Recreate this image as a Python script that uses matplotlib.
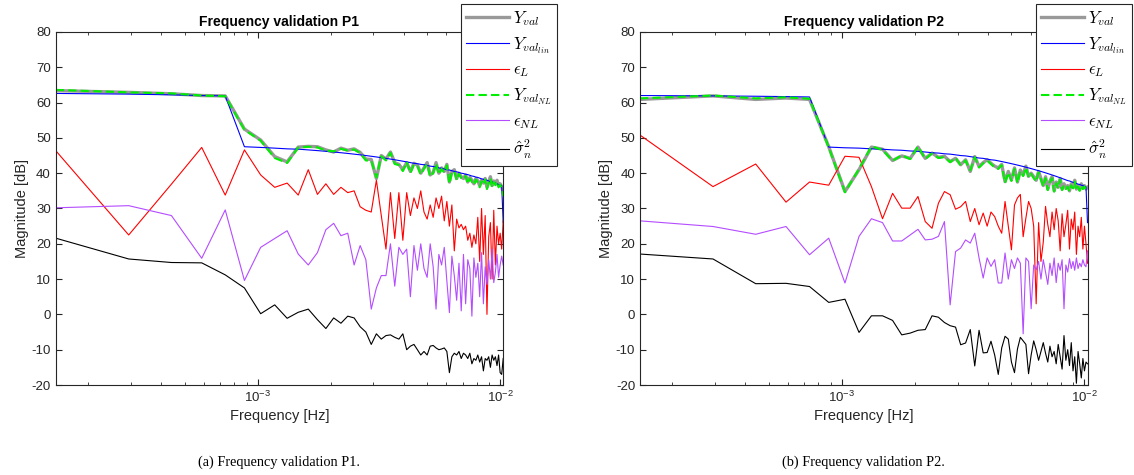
import numpy as np
import matplotlib
matplotlib.use("Agg")
import matplotlib.pyplot as plt

plt.rcParams['font.family'] = ['Liberation Sans', 'DejaVu Sans']
plt.rcParams['mathtext.fontset'] = 'cm'
plt.rcParams['axes.unicode_minus'] = False

# harmonic frequency grid (Hz)
f0 = 1.47e-4
harm = np.arange(1, 71)
freq = harm * f0

# ---- P1 ----
p1_yval = [63.4, 62.9, 62.5, 62.0, 61.9, 52.5, 49.4, 44.7, 43.2, 47.4,
           47.6, 47.5, 46.6, 46.0, 47.1, 46.5, 46.9, 45.9, 44.0, 43.9,
           38.5, 45.0, 44.0, 46.0, 43.0, 42.5, 41.0, 43.0, 40.5, 42.8,
           42.3, 40.0, 41.5, 43.0, 39.5, 40.2, 43.0, 40.0, 41.5, 40.5,
           42.5, 37.5, 40.5, 41.0, 38.5, 40.0, 39.0, 38.5, 39.5, 37.5,
           38.8, 38.0, 37.0, 38.5, 37.8, 36.5, 38.0, 37.2, 38.5, 36.0,
           37.5, 39.0, 36.5, 37.8, 37.0, 38.0, 36.5, 37.0, 36.2, 34.5]
p1_ylin = [62.6, 62.4, 62.2, 62.0, 61.9, 47.5, 47.3, 47.1, 46.9, 46.8,
           46.6, 46.4, 46.2, 46.0, 45.8, 45.6, 45.4, 45.2, 45.0, 44.8,
           44.6, 44.4, 44.2, 44.0, 43.8, 43.6, 43.4, 43.2, 43.0, 42.8,
           42.7, 42.5, 42.4, 42.2, 42.0, 41.9, 41.7, 41.5, 41.4, 41.2,
           41.0, 40.9, 40.7, 40.5, 40.4, 40.2, 40.0, 39.9, 39.7, 39.6,
           39.4, 39.2, 39.1, 38.9, 38.8, 38.6, 38.4, 38.3, 38.1, 38.0,
           37.8, 37.6, 37.5, 37.3, 37.2, 37.0, 36.8, 36.7, 36.5, 26.0]
p1_epsL = [46.4, 22.5, 36.9, 47.3, 33.8, 46.6, 39.5, 36.0, 37.2, 33.8,
           41.0, 34.0, 37.0, 34.0, 36.0, 34.5, 35.0, 30.5, 29.5, 29.0,
           38.0, 28.0, 18.5, 34.5, 21.5, 34.5, 21.0, 34.5, 28.0, 33.0,
           30.0, 35.0, 29.0, 27.0, 31.0, 27.5, 33.0, 30.0, 33.5, 26.5,
           32.0, 25.0, 31.0, 18.0, 27.0, 24.5, 25.5, 24.0, 25.0, 21.0,
           23.0, 19.0, 22.5, 20.0, 27.5, 15.0, 30.0, 17.0, 28.0, 0.0,
           22.0, 26.0, 10.0, 29.5, 14.0, 25.0, 20.0, 23.0, 18.5, 26.5]
p1_ynl = [63.6, 62.9, 62.6, 62.0, 61.8, 52.3, 49.2, 44.3, 42.9, 47.3,
          47.5, 47.3, 46.4, 46.2, 46.9, 46.4, 46.7, 45.7, 43.6, 43.6,
          38.8, 44.8, 43.6, 45.8, 42.6, 42.3, 40.6, 43.2, 40.0, 42.5,
          42.0, 39.6, 41.3, 42.6, 39.0, 40.0, 42.7, 39.6, 41.2, 40.2,
          42.2, 37.0, 40.2, 40.6, 38.0, 39.8, 38.6, 38.2, 39.2, 37.0,
          38.5, 37.6, 36.6, 38.2, 37.4, 36.0, 37.7, 36.8, 38.2, 35.5,
          37.2, 38.6, 36.0, 37.5, 36.6, 37.6, 36.0, 36.7, 35.8, 33.5]
p1_epsNL = [30.2, 30.8, 28.0, 15.9, 29.6, 9.6, 19.0, 21.5, 23.7, 17.1,
            14.0, 17.5, 24.0, 25.8, 22.3, 23.0, 14.0, 19.5, 15.5, 1.5,
            7.5, 11.0, 11.0, 20.0, 8.0, 19.0, 17.0, 18.5, 5.0, 19.5,
            12.5, 20.0, 13.0, 10.5, 20.0, 13.5, 1.5, 17.0, 14.0, 19.0,
            9.5, 0.5, 16.5, 11.0, 4.0, 14.5, 1.0, 17.0, 3.0, 15.5,
            13.0, -0.5, 16.0, 10.5, 14.5, 5.0, 17.5, 3.0, 13.5, 8.5,
            15.5, 10.0, 18.5, 9.0, 12.0, 17.0, 10.5, 14.0, 16.5, 14.0]
p1_sigma = [21.6, 15.7, 14.7, 14.6, 11.2, 7.5, 0.2, 2.7, -1.1, 0.6,
            1.5, -1.5, -4.0, -1.0, -2.5, -0.5, -1.0, -3.5, -5.0, -8.5,
            -5.5, -7.0, -6.0, -5.8, -6.5, -7.0, -5.5, -10.0, -9.0, -8.5,
            -10.0, -11.5, -10.5, -11.5, -9.0, -8.8, -9.5, -10.0, -9.8, -9.5,
            -10.5, -16.5, -12.0, -11.0, -11.5, -10.5, -12.5, -11.0, -11.5, -12.5,
            -11.0, -14.0, -12.5, -13.0, -11.5, -13.5, -12.0, -16.0, -12.5, -13.0,
            -12.0, -15.0, -11.5, -13.0, -12.0, -14.5, -11.5, -16.5, -17.0, -12.5]

# ---- P2 ----
p2_yval = [60.9, 61.9, 60.9, 61.3, 60.9, 47.5, 34.8, 41.0, 47.4, 46.8,
           43.6, 44.9, 44.2, 47.4, 44.2, 45.7, 44.5, 44.8, 43.3, 44.2,
           42.4, 43.8, 40.5, 44.7, 41.9, 43.0, 43.8, 42.8, 42.0, 41.5,
           42.5, 37.6, 40.5, 38.1, 41.5, 37.5, 40.9, 39.5, 42.0, 39.1,
           40.0, 39.0, 38.0, 40.5, 38.5, 36.5, 39.0, 35.5, 37.8, 39.0,
           35.0, 37.5, 36.0, 38.5, 35.5, 37.0, 35.8, 36.5, 35.0, 37.0,
           36.0, 38.0, 35.5, 36.5, 35.3, 37.0, 35.8, 36.5, 35.5, 36.0]
p2_ylin = [62.0, 61.9, 61.8, 61.7, 61.6, 47.4, 47.2, 47.1, 46.9, 46.8,
           46.6, 46.5, 46.3, 46.2, 46.0, 45.8, 45.7, 45.5, 45.4, 45.2,
           45.0, 44.9, 44.7, 44.5, 44.3, 44.2, 44.0, 43.8, 43.7, 43.5,
           43.3, 43.1, 42.9, 42.7, 42.5, 42.3, 42.1, 41.9, 41.7, 41.5,
           41.3, 41.1, 40.9, 40.7, 40.5, 40.3, 40.1, 39.9, 39.7, 39.5,
           39.3, 39.1, 38.9, 38.7, 38.5, 38.3, 38.1, 37.9, 37.8, 37.6,
           37.4, 37.3, 37.1, 36.9, 36.8, 36.6, 36.5, 36.3, 36.1, 26.0]
p2_epsL = [50.8, 36.2, 42.6, 31.8, 37.5, 36.6, 44.8, 44.5, 36.2, 27.1,
           34.3, 30.1, 30.1, 33.4, 26.3, 24.4, 31.5, 34.8, 33.9, 29.8,
           30.5, 32.0, 26.3, 30.0, 25.4, 28.7, 25.0, 29.0, 27.7, 25.0,
           23.0, 32.0, 25.0, 18.3, 31.0, 33.0, 34.0, 22.0, 27.3, 32.0,
           30.0, 25.0, 3.0, 26.0, 15.0, 20.5, 30.6, 25.5, 22.0, 29.0,
           24.0, 30.0, 26.5, 18.0, 28.5, 22.0, 25.5, 29.5, 18.5, 27.0,
           24.0, 29.0, 17.0, 25.0, 22.0, 27.5, 18.5, 25.0, 20.0, 14.5]
p2_ynl = [61.2, 62.0, 61.2, 61.5, 61.1, 47.3, 34.6, 41.2, 47.6, 46.6,
          43.5, 45.1, 44.0, 47.6, 44.0, 45.6, 44.3, 44.6, 43.1, 44.4,
          42.2, 43.6, 40.8, 44.5, 41.6, 42.8, 43.6, 42.6, 41.6, 41.2,
          42.3, 37.2, 40.2, 37.8, 41.2, 37.2, 40.6, 39.2, 41.6, 38.8,
          39.8, 38.6, 37.6, 40.2, 38.2, 36.2, 38.6, 35.2, 37.5, 38.6,
          34.8, 37.2, 35.7, 38.2, 35.2, 36.6, 35.5, 36.2, 34.8, 36.6,
          35.7, 37.6, 35.2, 36.2, 35.0, 36.6, 35.5, 36.2, 35.2, 35.8]
p2_epsNL = [26.5, 24.9, 22.7, 24.9, 16.9, 21.6, 8.9, 22.1, 27.1, 26.0,
            20.8, 20.8, 22.5, 24.1, 21.1, 21.3, 22.1, 26.3, 2.7, 17.8,
            18.8, 21.1, 20.2, 23.0, 16.0, 10.3, 16.0, 13.6, 15.5, 8.9,
            8.9, 17.4, 10.0, 15.5, 13.0, 16.0, 14.5, -5.5, 16.0, 15.0,
            1.6, 14.0, 12.6, 15.0, 10.0, 15.5, 12.0, 8.5, 14.5, 11.0,
            16.0, 9.0, 14.5, 12.5, 15.5, 1.6, 14.0, 12.0, 15.8, 13.0,
            15.0, 12.5, 16.0, 13.0, 14.5, 13.5, 15.5, 14.0, 13.5, 18.0]
p2_sigma = [17.1, 15.7, 8.7, 8.8, 7.9, 3.4, 4.3, -5.1, -0.4, -0.4,
            -1.7, -5.8, -5.3, -4.5, -4.3, -0.4, -0.8, -2.3, -3.2, -3.6,
            -8.6, -8.1, -4.3, -14.6, -4.5, -10.9, -10.8, -7.6, -11.5, -17.0,
            -9.5, -6.2, -7.0, -13.5, -16.5, -9.8, -6.5, -7.5, -8.5, -16.8,
            -11.5, -7.5, -10.0, -13.0, -10.5, -8.0, -11.0, -13.5, -9.0, -12.0,
            -10.5, -14.0, -8.5, -12.0, -15.5, -6.0, -13.0, -10.0, -14.5, -8.0,
            -16.0, -12.0, -19.5, -10.5, -14.0, -18.0, -12.5, -16.0, -13.5, -14.0]

panels = [
    ("Frequency validation P1", "(a) Frequency validation P1.",
     [p1_yval, p1_ylin, p1_epsL, p1_ynl, p1_epsNL, p1_sigma]),
    ("Frequency validation P2", "(b) Frequency validation P2.",
     [p2_yval, p2_ylin, p2_epsL, p2_ynl, p2_epsNL, p2_sigma]),
]

labels = [r'$Y_{val}$', r'$Y_{val_{lin}}$', r'$\epsilon_L$',
          r'$Y_{val_{NL}}$', r'$\epsilon_{NL}$', r'$\hat{\sigma}_n^2$']
styles = [dict(color='#999999', lw=2.4, ls='-'),
          dict(color='#0000ff', lw=0.8, ls='-'),
          dict(color='#ff0000', lw=0.8, ls='-'),
          dict(color='#00ee00', lw=1.5, ls=(0, (4, 2))),
          dict(color='#b44cff', lw=0.8, ls='-'),
          dict(color='#000000', lw=0.8, ls='-')]

W, H = 1134, 475
fig = plt.figure(figsize=(W / 100, H / 100), dpi=100)

ax_left = [55.7, 640]
legend_right = [557, 1132]
ax_w = 447.5
for i, (title, caption, series) in enumerate(panels):
    ax = fig.add_axes([ax_left[i] / W, (H - 385) / H, ax_w / W, (385 - 32) / H])
    for vals, lab, st in zip(series, labels, styles):
        ax.plot(freq, vals, label=lab, **st)
    ax.set_xscale('log')
    ax.set_xlim(freq[0], freq[-1])
    ax.set_ylim(-20, 80)
    ax.set_yticks(np.arange(-20, 81, 10))
    ax.tick_params(which='both', direction='in', top=True, right=True,
                   labelsize=9.5, colors='#262626', length=4)
    ax.tick_params(which='minor', length=2.5)
    for sp in ax.spines.values():
        sp.set_color('#262626')
        sp.set_linewidth(0.8)
    ax.set_title(title, fontsize=10, fontweight='bold', pad=4)
    ax.set_xlabel('Frequency [Hz]', fontsize=10.5, color='#262626', labelpad=3)
    ax.set_ylabel('Magnitude [dB]', fontsize=10.5, color='#262626', labelpad=2)
    leg = ax.legend(loc='upper right', bbox_to_anchor=(legend_right[i] / W, 1 - 4 / H),
                    bbox_transform=fig.transFigure, fontsize=12, frameon=True,
                    fancybox=False, framealpha=1, edgecolor='#262626',
                    handlelength=2.6, handletextpad=0.25, labelspacing=0.42,
                    borderpad=0.3, borderaxespad=0)
    leg.get_frame().set_linewidth(0.8)
    fig.text((ax_left[i] + ax_w / 2) / W, (H - 462) / H, caption,
             ha='center', va='center', fontsize=10.3, family='Liberation Serif')

fig.savefig('out.png', dpi=100)
